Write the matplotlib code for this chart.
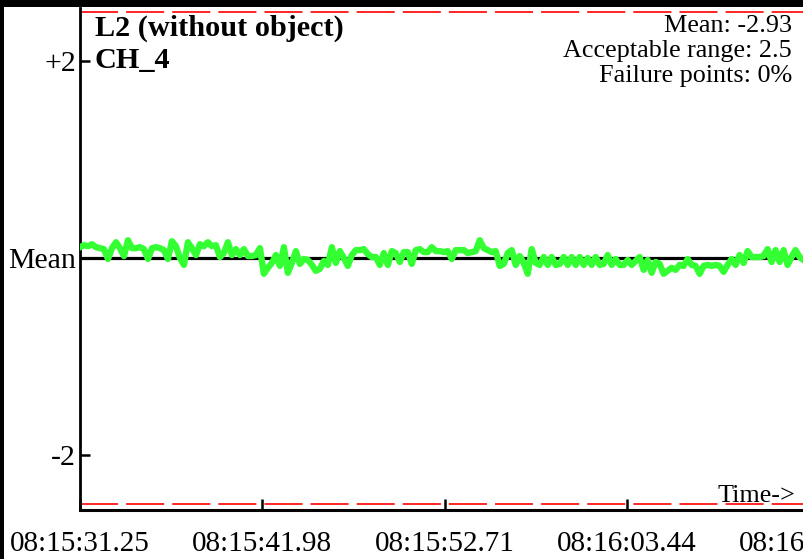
import numpy as np
import matplotlib
matplotlib.use("Agg")
import matplotlib.pyplot as plt
import matplotlib.patches as patches

plt.rcParams['font.family'] = ['Liberation Serif', 'DejaVu Serif']

# === DATA ===
title_lines = ["L2 (without object)", "CH_4"]
info_lines = ["Mean: -2.93", "Acceptable range: 2.5", "Failure points: 0%"]
tick_seconds = [0.0, 10.73, 21.46, 32.19, 42.92]
tick_labels = ["08:15:31.25", "08:15:41.98", "08:15:52.71", "08:16:03.44", "08:16:14.17"]
ytick_vals = [2, 0, -2]
ytick_labels = ["+2", "Mean", "-2"]
acceptable = 2.5
t_end = 42.6  # last sample (s from start)

# deviation from mean, sampled evenly over the run
dev = [
    0.11, 0.13, 0.12, 0.14, 0.11, 0.10, 0.09, -0.01, 0.10, 0.16,
    0.10, 0.02, 0.18, 0.10, 0.10, 0.11, 0.09, -0.01, 0.10, 0.11,
    0.10, 0.08, -0.01, 0.17, 0.12, 0.00, -0.07, 0.16, 0.10, 0.03,
    0.14, 0.12, 0.16, 0.12, 0.13, 0.01, 0.05, 0.16,
    0.03, 0.09, 0.03, 0.09, 0.02, 0.02, 0.03, 0.10, -0.16, -0.10,
    -0.05, 0.03, -0.08, 0.11, -0.15, -0.05, 0.07, -0.06, -0.01, -0.02,
    -0.07, -0.13, -0.11, -0.03, -0.07, 0.11, -0.05, 0.07, 0.00, -0.08,
    0.03, 0.08, 0.08, 0.09, 0.04, 0.01,
    0.01, -0.07, 0.05, -0.07, 0.07, 0.05, -0.04, 0.06, 0.06, -0.06,
    0.08, 0.09, 0.06, 0.06, 0.11, 0.07, 0.07, 0.06, 0.07, -0.01,
    0.08, 0.08, 0.08, 0.05, 0.06, 0.07, 0.18, 0.10, 0.08, 0.06,
    0.07, -0.08, -0.06, 0.05, 0.08, -0.07, 0.02,
    -0.05, -0.16, 0.09, -0.05, -0.07, 0.01, -0.07, 0.01, -0.07, -0.06,
    0.01, -0.07, 0.01, -0.07, 0.01, -0.07, 0.00, -0.07, 0.01, -0.07,
    -0.06, 0.03, -0.07, -0.01, -0.07, -0.07, -0.02, -0.07, -0.03, 0.01,
    -0.12, -0.02, -0.15, -0.04, -0.06, -0.16,
    -0.13, -0.10, -0.12, -0.07, -0.08, -0.01, -0.07, -0.08, -0.16, -0.08,
    -0.07, -0.08, -0.07, -0.08, -0.14, -0.07, -0.01, -0.07, 0.03, -0.05,
    0.07, 0.01, 0.01, 0.01, 0.02, 0.09, -0.04, 0.08, -0.04, 0.08,
    -0.07, 0.01, 0.08, 0.01, -0.02,
]
t = np.linspace(0, t_end, len(dev))

W, H = 804, 559
fig = plt.figure(figsize=(W / 100, H / 100), dpi=100, facecolor='white')
ax = fig.add_axes([80 / W, 49 / H, 729 / W, 502 / H])
ax.set_facecolor('white')

ax.set_xlim(0, 42.92)
ax.set_ylim(-2.558, 2.538)

# acceptable range limits
for lim in (acceptable, -acceptable):
    ax.axhline(lim, color='red', lw=1.2, dashes=(27.4 / 1.2, 5.8 / 1.2))
# mean line
ax.axhline(0, color='black', lw=2.3, zorder=2)
# signal
ax.plot(t, dev, color='#33ff33', lw=4.6, solid_joinstyle='round', zorder=3)

for s in ('top', 'right'):
    ax.spines[s].set_visible(False)
ax.spines['left'].set_linewidth(2.0)
ax.spines['bottom'].set_linewidth(2.2)

ax.set_xticks(tick_seconds)
ax.set_xticklabels(tick_labels)
ax.set_yticks(ytick_vals)
ax.set_yticklabels(ytick_labels)
ax.tick_params(axis='x', direction='in', length=8, width=1.8, pad=15, labelsize=21)
ax.tick_params(axis='y', direction='in', length=7.5, width=1.8, pad=3, labelsize=21.5)

# black frame bits (top and left)
fig.patches.append(patches.Rectangle((0, 1 - 7 / H), 1, 7 / H, transform=fig.transFigure,
                                     facecolor='black', edgecolor='none'))
fig.patches.append(patches.Rectangle((0, 0), 4 / W, 1, transform=fig.transFigure,
                                     facecolor='black', edgecolor='none'))

# titles
fig.text(95 / W, 1 - 36 / H, title_lines[0], fontsize=21.8, fontweight='bold', va='baseline')
fig.text(95 / W, 1 - 68 / H, title_lines[1], fontsize=21.8, fontweight='bold', va='baseline')

for i, line in enumerate(info_lines):
    fig.text(792 / W, 1 - (32 + 25 * i) / H, line, fontsize=18.8, ha='right', va='baseline')

fig.text(795 / W, 1 - 502 / H, "Time->", fontsize=18.8, ha='right', va='baseline')

fig.savefig('out.png', dpi=100, facecolor='white')
